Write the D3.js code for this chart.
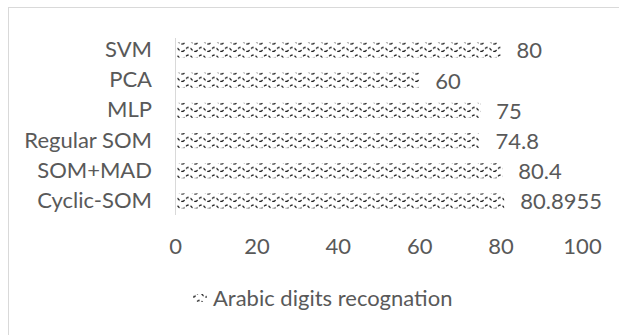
<!DOCTYPE html>
<html>
<head>
<meta charset="utf-8">
<script src="https://cdn.jsdelivr.net/npm/d3@7"></script>
<style>
	body { margin: 0; background: #fff; }
	text { font-family: Lato, "Open Sans", sans-serif; fill: #595959; }
</style>
</head>
<body>
<div id="chart"></div>
<script>
const categories = ['SVM', 'PCA', 'MLP', 'Regular SOM', 'SOM+MAD', 'Cyclic-SOM'];
const values = [80, 60, 75, 74.8, 80.4, 80.8955];
const valueLabels = ['80', '60', '75', '74.8', '80.4', '80.8955'];
const xTicks = [0, 20, 40, 60, 80, 100];
const seriesName = 'Arabic digits recognation';

const width = 619,
	height = 335,
	fontSize = 22;

const data = categories.map((c, i) => ({cat: c, val: values[i], label: valueLabels[i]}));

const svg = d3.select('#chart').append('svg')
	.attr('width', width)
	.attr('height', height);

// wave fill like the excel pattern
const pat = svg.append('defs').append('pattern')
	.attr('id', 'wave')
	.attr('patternUnits', 'userSpaceOnUse')
	.attr('width', 13)
	.attr('height', 7.5)
	.attr('y', 0.5);

pat.append('rect')
	.attr('width', 13)
	.attr('height', 7.5)
	.attr('fill', '#fff');

pat.append('path')
	.attr('d', 'M0,6 C3,6 3.5,2 6.5,2 C9.5,2 10,6 13,6')
	.attr('fill', 'none')
	.attr('stroke', '#000')
	.attr('stroke-width', 1.1)
	.attr('stroke-dasharray', '3,2');

// chart border (right / bottom edges fall outside the picture)
svg.append('rect')
	.attr('x', 8.5)
	.attr('y', 7.5)
	.attr('width', 700)
	.attr('height', 400)
	.attr('fill', 'none')
	.attr('stroke', '#d9d9d9');

// ###
// SCALES
// ###

const x = d3.scaleLinear()
	.domain([0, 100])
	.range([175, 582]);

const y = d3.scaleBand()
	.domain(categories)
	.range([35, 216])
	.paddingInner(0.5)
	.paddingOuter(0.25);

// x axis: labels only
const xAxis = svg.append('g')
	.attr('class', 'x axis')
	.attr('transform', 'translate(0, 238)')
	.call(d3.axisBottom(x).tickValues(xTicks).tickSize(0).tickPadding(0));

xAxis.select('.domain').remove();
xAxis.selectAll('text')
	.attr('font-size', fontSize)
	.attr('dy', '0.71em');

// y axis: light gray line with category names
const yAxis = svg.append('g')
	.attr('class', 'y axis')
	.attr('transform', `translate(${x(0)}, 0)`)
	.call(d3.axisLeft(y).tickSize(0).tickPadding(23));

yAxis.select('.domain')
	.attr('stroke', '#d9d9d9')
	.attr('d', `M0.5,38V215`);
yAxis.selectAll('text')
	.attr('font-size', fontSize);

// ###
// BARS
// ###

svg.append('g').selectAll('rect')
	.data(data)
	.join('rect')
	.attr('x', x(0) + 2)
	.attr('y', d => y(d.cat))
	.attr('width', d => x(d.val) - x(0) - 2)
	.attr('height', y.bandwidth())
	.attr('fill', 'url(#wave)');

svg.append('g').selectAll('text')
	.data(data)
	.join('text')
	.attr('x', d => x(d.val) + 16)
	.attr('y', d => y(d.cat) + y.bandwidth() / 2)
	.attr('dy', '0.38em')
	.attr('font-size', fontSize)
	.text(d => d.label);

// ###
// LEGEND
// ###

const legend = svg.append('g')
	.attr('transform', 'translate(193, 298)');

legend.append('rect')
	.attr('x', 0)
	.attr('y', -4)
	.attr('width', 14)
	.attr('height', 8)
	.attr('fill', 'url(#wave)');

legend.append('text')
	.attr('x', 20)
	.attr('dy', '0.38em')
	.attr('font-size', fontSize)
	.text(seriesName);
</script>
</body>
</html>
